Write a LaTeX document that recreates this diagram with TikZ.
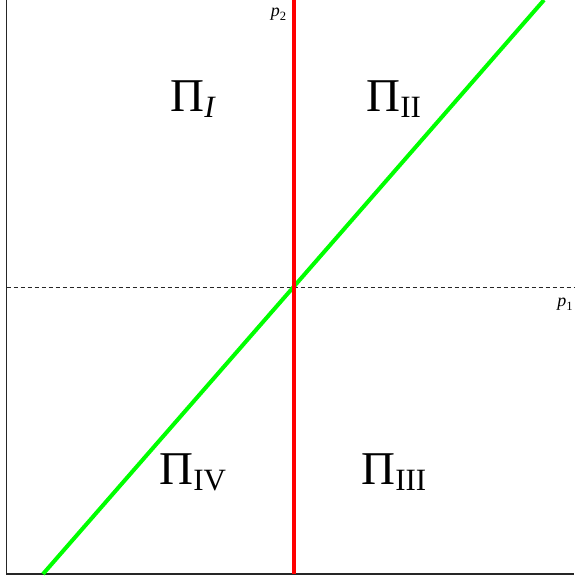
\documentclass[tikz,border=0pt]{standalone}
\usepackage{fontspec}
\setmainfont{Liberation Serif}
\usetikzlibrary{positioning}
\definecolor{PlotRed}{RGB}{255,0,0}
\definecolor{PlotGreen}{RGB}{0,255,0}
\definecolor{FrameGray}{HTML}{262626}
\newcommand{\regionlbl}[1]{{\fontsize{23.5}{24}\selectfont Π}{\fontsize{15.5}{16}\selectfont\raisebox{-2.8pt}{#1}}}
\newcommand{\axislbl}[1]{{\fontsize{9}{9}\selectfont\textit{p}}{\fontsize{6.3}{7}\selectfont\raisebox{-2pt}{#1}}}

\begin{document}
\begin{tikzpicture}[x=0.5pt,y=0.5pt]
\tikzstyle{frameline}=[draw=FrameGray,line width=0.75pt]
\tikzstyle{zeroline}=[draw=FrameGray,line width=0.45pt,dash pattern=on 2pt off 1.5pt]
\tikzstyle{redline}=[draw=PlotRed,line width=2pt]
\tikzstyle{greenline}=[draw=PlotGreen,line width=2pt]
\tikzstyle{region}=[inner sep=0pt,anchor=base west]
\tikzstyle{axisname}=[inner sep=0pt,anchor=base west]
\useasboundingbox (0,0) rectangle (574,579);
\coordinate (origin) at (293.5,292);
\coordinate (corner) at (6.5,5);
\coordinate (ftop) at (6.5,579);
\coordinate (fright) at (574,5);
\coordinate (zl) at (6.5,292);
\coordinate (zr) at (574,292);
\coordinate (rbot) at (293.5,5);
\coordinate (rtop) at (293.5,579);
\coordinate (gbot) at (43,5);
\coordinate (gtop) at (544,579);
% frame
\draw[frameline] (ftop) -- (corner) -- (fright);
\draw[zeroline] (zl) -- (zr);
% boundaries
\draw[greenline] (gbot) -- (origin) -- (gtop);
\draw[redline] (rbot) -- (rtop);
% labels
\node[axisname] (ptwo) at (270.5,562.4) {\axislbl{2}};
\node[axisname,anchor=base east] (pone) at (573,272.7) {\axislbl{1}};
\node[region] (qI) at (170,467.3) {\regionlbl{\textit{I}}};
\node[region] (qII) at (366,467.3) {\regionlbl{II}};
\node[region] (qIV) at (159,94) {\regionlbl{IV}};
\node[region] (qIII) at (361,94) {\regionlbl{III}};
\end{tikzpicture}
\end{document}
